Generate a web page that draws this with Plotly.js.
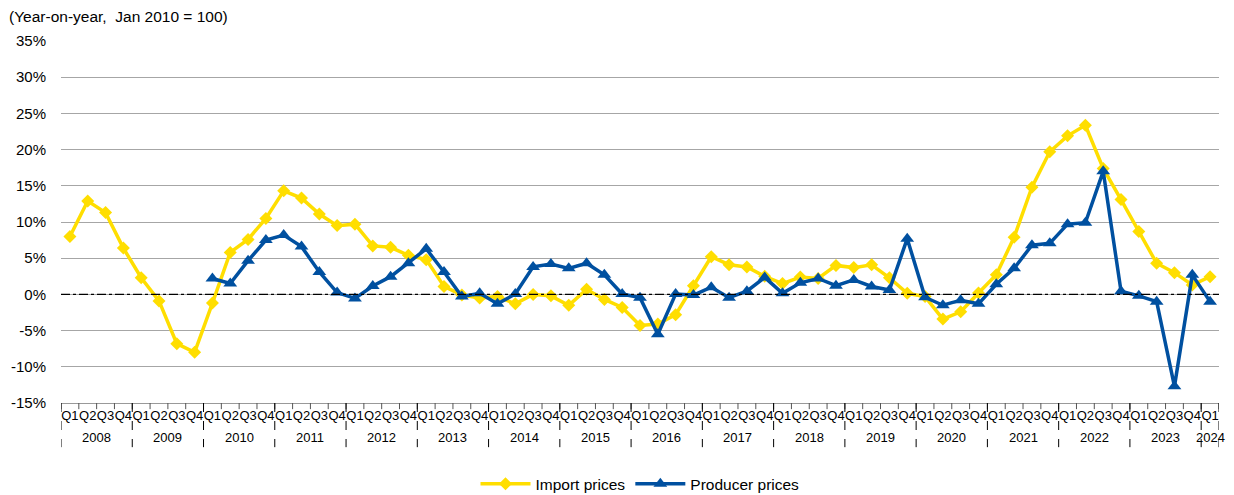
<!DOCTYPE html>
<html>
<head>
<meta charset="utf-8">
<script src="https://cdn.plot.ly/plotly-3.0.1.min.js"></script>
<style>html,body{margin:0;padding:0;background:#fff;}#chart{width:1234px;height:495px;}</style>
</head>
<body>
<div id="chart"></div>
<script>
const years = ['2008','2009','2010','2011','2012','2013','2014','2015','2016','2017','2018','2019','2020','2021','2022','2023','2024'];
const quarters = ['Q1','Q2','Q3','Q4'];
const lastYearQuarters = 1;
const yTicks = [-15,-10,-5,0,5,10,15,20,25,30,35];

const importPrices = [
  8.0, 12.9, 11.3, 6.4,
  2.3, -0.9, -6.8, -8.0,
  -1.2, 5.8, 7.6, 10.5,
  14.3, 13.3, 11.1, 9.5,
  9.7, 6.7, 6.5, 5.4,
  4.8, 1.1, -0.1, -0.5,
  -0.3, -1.3, 0.0, -0.2,
  -1.5, 0.7, -0.7, -1.8,
  -4.3, -4.1, -2.8, 1.2,
  5.2, 4.1, 3.8, 2.5,
  1.5, 2.4, 2.2, 4.0,
  3.7, 4.1, 2.3, 0.15,
  -0.3, -3.4, -2.4, 0.2,
  2.7, 7.9, 14.8, 19.7,
  21.9, 23.35, 17.4, 13.1,
  8.7, 4.3, 3.0, 1.3,
  2.45
];
const producerPrices = [
  null, null, null, null,
  null, null, null, null,
  2.2, 1.5, 4.65, 7.5,
  8.2, 6.6, 3.1, 0.25,
  -0.55, 1.15, 2.45, 4.3,
  6.3, 3.1, -0.3, 0.15,
  -1.3, 0.05, 3.8, 4.2,
  3.6, 4.3, 2.7, 0.05,
  -0.45, -5.5, 0.05, -0.1,
  1.0, -0.45, 0.45, 2.35,
  0.15, 1.6, 2.2, 1.2,
  2.0, 1.1, 0.6, 7.7,
  -0.4, -1.5, -0.8, -1.3,
  1.4, 3.6, 6.8, 7.05,
  9.7, 9.9, 17.0, 0.45,
  -0.2, -1.0, -12.7, 2.7,
  -1.0
];

const periods = [], qText = [], yearCenters = [], yearBounds = [];
years.forEach((y, yi) => {
  const n = (yi === years.length - 1) ? lastYearQuarters : 4;
  const start = periods.length;
  for (let q = 0; q < n; q++) { periods.push(y + ' ' + quarters[q]); qText.push(quarters[q]); }
  yearCenters.push({year: y, pos: start + (n - 1) / 2});
  yearBounds.push(start - 0.5);
});
yearBounds.push(periods.length - 0.5);

const FONT = 'Liberation Sans, Arial, sans-serif';
const shapes = [];
shapes.push({type:'line', xref:'paper', x0:0, x1:1, yref:'y', y0:0, y1:0,
  line:{color:'#000', width:1.2, dash:'dashdot'}, layer:'above'});
for (let i = 0; i <= periods.length; i++) {
  shapes.push({type:'line', xref:'x', x0:i-0.5, x1:i-0.5, yref:'paper', y0:0, y1:-0.017,
    line:{color:'#555', width:1}});
}
yearBounds.forEach(b => {
  shapes.push({type:'line', xref:'x', x0:b, x1:b, yref:'paper', y0:0, y1:-0.122,
    line:{color:'#000', width:1, dash:'dash'}});
});

const annotations = [{
  text:'(Year-on-year,&nbsp; Jan 2010 = 100)', xref:'paper', yref:'paper',
  x:-0.047, y:1.069, xanchor:'left', yanchor:'middle', showarrow:false,
  font:{family:FONT, size:15.5, color:'#000'}
}];
yearCenters.forEach(c => annotations.push({
  text:c.year, xref:'x', yref:'paper', x:c.pos, y:-0.094, xanchor:'center', yanchor:'middle',
  showarrow:false, font:{family:FONT, size:13, color:'#000'}
}));

const traces = [
  {x:periods, y:importPrices, name:'Import prices', type:'scatter', mode:'lines+markers',
   line:{color:'#FFDE00', width:3.5}, marker:{symbol:'diamond', size:10, color:'#FFDE00'}},
  {x:periods, y:producerPrices, name:'Producer prices', type:'scatter', mode:'lines+markers',
   line:{color:'#0050A0', width:3.5}, marker:{symbol:'triangle-up', size:12, color:'#0050A0'}}
];

const layout = {
  width:1234, height:495,
  margin:{l:61, r:15, t:41, b:92, autoexpand:false},
  paper_bgcolor:'#fff', plot_bgcolor:'#fff',
  showlegend:true,
  legend:{orientation:'h', x:0.5, xanchor:'center', xref:'paper', yref:'container', y:0.022, yanchor:'middle',
    font:{family:FONT, size:15.5, color:'#000'}, itemwidth:50, tracegroupgap:0},
  xaxis:{type:'category', tickmode:'array', tickvals:periods, ticktext:qText,
    ticks:'', showgrid:false, zeroline:false, showline:true, linecolor:'#999', linewidth:1,
    tickfont:{family:FONT, size:13, color:'#000'}, tickangle:0, automargin:false,
    range:[-0.5, periods.length - 0.5], fixedrange:true},
  yaxis:{range:[-15, 35], tickmode:'array', tickvals:yTicks, ticktext:yTicks.map(v => v + '%'),
    showgrid:true, gridcolor:'#a6a6a6', gridwidth:1, zeroline:false, automargin:false,
    showline:false, ticks:'', ticklabelstandoff:14,
    tickfont:{family:FONT, size:15, color:'#000'}, fixedrange:true},
  shapes:shapes, annotations:annotations,
  font:{family:FONT}
};

Plotly.newPlot('chart', traces, layout, {displayModeBar:false, staticPlot:true});
</script>
</body>
</html>
